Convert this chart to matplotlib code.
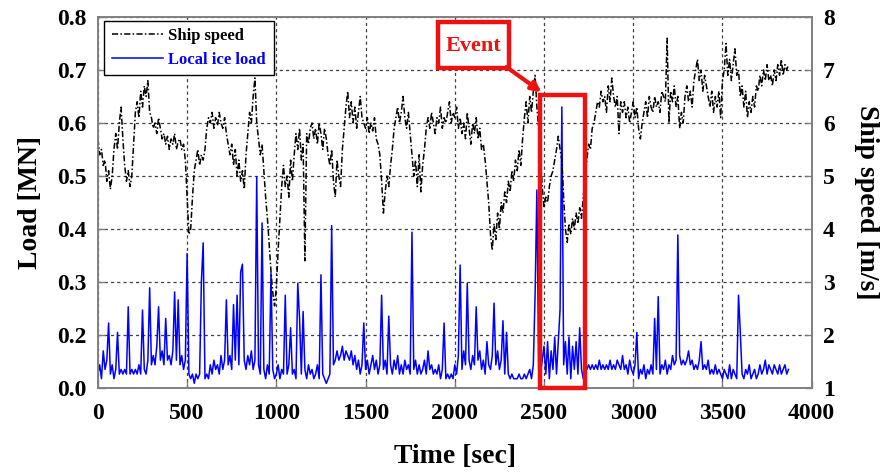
import numpy as np
import matplotlib
matplotlib.use("Agg")
import matplotlib.pyplot as plt
from matplotlib.patches import Rectangle

# time axis: one reading every 10 s, 0 .. 3870 s
time_step = 10

ship_speed = [
    5.7, 5.4, 5.5, 5.2, 5.3, 4.9, 5.1, 4.75, 5.0, 5.5,
    5.8, 5.5, 6.0, 6.3, 5.7, 5.2, 4.9, 5.1, 4.8, 5.0,
    5.6, 6.2, 6.4, 6.1, 6.6, 6.3, 6.7, 6.5, 6.8, 6.2,
    6.1, 5.9, 6.0, 5.8, 6.1, 5.9, 5.7, 5.8, 5.6, 5.75,
    5.5, 5.7, 5.6, 5.8, 5.5, 5.65, 5.7, 5.5, 5.6, 5.3,
    4.6, 3.9, 4.0, 4.6, 5.1, 5.3, 5.5, 5.2, 5.4, 5.3,
    5.5, 5.9, 6.1, 6.0, 6.2, 5.9, 6.1, 5.95, 6.2, 6.0,
    5.9, 6.1, 5.8, 5.6, 5.4, 5.6, 5.2, 5.5, 5.0, 5.3,
    4.9, 5.1, 4.75, 5.4, 5.8, 6.2, 6.0, 6.5, 6.85, 6.0,
    5.7, 5.4, 5.6, 5.1, 4.6, 4.2, 3.7, 3.2, 2.8, 2.55,
    2.9, 3.6, 4.2, 4.8, 5.2, 4.8, 5.0, 4.6, 5.3, 4.9,
    5.4, 5.8, 5.5, 5.9, 5.3, 5.6, 3.4, 5.8, 5.6, 5.9,
    6.0, 5.7, 5.9, 5.6, 6.0, 5.8, 5.5, 5.9, 5.7, 5.4,
    5.2, 5.5, 4.9, 4.6, 5.3, 5.0, 4.8, 5.5, 5.9, 6.3,
    6.6, 6.1, 6.4, 6.0, 6.3, 5.9, 6.2, 6.5, 6.1, 6.0,
    5.9, 6.1, 5.8, 6.0, 5.85, 6.1, 5.7, 5.6, 5.4, 4.9,
    4.3, 4.7, 5.0, 4.8, 5.2, 5.5, 5.9, 6.1, 6.3, 6.0,
    6.2, 6.5, 6.1, 5.9, 6.2, 5.8, 5.4, 5.0, 5.3, 4.8,
    5.4, 4.7, 5.2, 5.5, 5.9, 6.1, 5.9, 6.2, 6.0, 5.8,
    6.1, 6.0, 6.3, 5.9, 6.1, 6.0, 6.2, 6.4, 6.0, 6.2,
    6.1, 6.3, 5.9, 6.1, 5.8, 6.0, 5.7, 6.2, 5.9, 5.6,
    6.0, 5.8, 6.1, 5.7, 5.9, 5.5, 5.6, 5.3, 4.9, 4.5,
    3.9, 3.6, 4.1, 3.8, 4.3, 4.0, 4.5, 4.3, 4.7, 4.5,
    4.9, 4.7, 5.1, 4.9, 5.3, 5.1, 5.5, 5.2, 5.7, 6.1,
    6.4, 6.0, 6.5, 6.2, 6.6, 6.9, 6.3, 5.9, 5.4, 4.8,
    4.4, 4.6, 4.5, 4.8, 5.0, 5.1, 5.3, 5.5, 5.75, 5.5,
    5.3, 4.6, 4.0, 3.75, 4.1, 3.9, 4.2, 4.0, 4.3, 4.1,
    4.4, 4.2, 4.6, 5.0, 5.3, 5.6, 5.5, 5.9, 6.0, 6.2,
    6.4, 6.3, 6.6, 6.4, 6.5, 6.2, 6.7, 6.4, 6.85, 6.5,
    6.3, 6.5, 5.8, 6.4, 6.2, 6.4, 6.1, 6.3, 6.0, 6.2,
    6.4, 6.1, 6.3, 5.9, 5.7, 6.0, 6.2, 6.4, 6.1, 6.5,
    6.3, 6.2, 6.5, 6.3, 6.4, 6.2, 6.6, 6.5, 6.4, 7.6,
    6.0, 6.6, 6.4, 6.7, 6.3, 6.5, 5.9, 6.2, 6.0, 6.5,
    6.7, 6.4, 6.6, 6.3, 6.8, 7.0, 7.2, 6.8, 7.0, 6.6,
    6.9, 6.7, 6.5, 6.3, 6.6, 6.2, 6.5, 6.3, 6.6, 6.1,
    6.8, 7.0, 7.5, 6.9, 7.2, 6.8, 7.1, 7.4, 6.9, 7.0,
    6.5, 6.7, 6.3, 6.6, 6.1, 6.4, 6.2, 6.5, 6.3, 6.7,
    6.6, 6.9, 6.7, 7.0, 6.8, 7.1, 6.8, 6.9, 6.7, 7.0,
    6.8, 7.1, 6.9, 7.2, 6.9, 7.1, 7.0, 7.1,
]

ice_load = [
    0.03, 0.05, 0.02, 0.08, 0.04, 0.06, 0.14, 0.03, 0.05, 0.02,
    0.04, 0.12, 0.03, 0.04, 0.03, 0.04, 0.03, 0.175, 0.03, 0.04,
    0.03, 0.04, 0.03, 0.05, 0.03, 0.168, 0.04, 0.03, 0.06, 0.216,
    0.05, 0.07, 0.05, 0.09, 0.175, 0.06, 0.08, 0.05, 0.15, 0.06,
    0.07, 0.05, 0.08, 0.207, 0.06, 0.19, 0.05, 0.07, 0.04, 0.06,
    0.29, 0.03, 0.02, 0.03, 0.01, 0.03, 0.02, 0.03, 0.23, 0.313,
    0.02, 0.03, 0.02, 0.05, 0.03, 0.06, 0.04, 0.05, 0.03, 0.07,
    0.04, 0.06, 0.19, 0.05, 0.07, 0.04, 0.18, 0.06, 0.2, 0.05,
    0.25, 0.267, 0.06, 0.04, 0.07, 0.05, 0.08, 0.04, 0.06, 0.455,
    0.05, 0.03, 0.356, 0.04, 0.02, 0.05, 0.03, 0.248, 0.04, 0.02,
    0.03, 0.05, 0.02, 0.04, 0.03, 0.2, 0.03, 0.05, 0.13, 0.03,
    0.04, 0.02, 0.226, 0.15, 0.03, 0.165, 0.04, 0.02, 0.05, 0.03,
    0.04, 0.02, 0.03, 0.05, 0.02, 0.244, 0.03, 0.02, 0.01, 0.02,
    0.03, 0.35, 0.05, 0.06, 0.08, 0.06, 0.07, 0.09, 0.06, 0.08,
    0.07, 0.06, 0.08, 0.05, 0.07, 0.04, 0.06, 0.03, 0.05, 0.14,
    0.04, 0.06, 0.03, 0.05, 0.07, 0.04, 0.06, 0.03, 0.05, 0.2,
    0.04, 0.06, 0.03, 0.155, 0.05, 0.03, 0.06, 0.04, 0.07, 0.03,
    0.05, 0.03, 0.06, 0.04, 0.05, 0.03, 0.336, 0.04, 0.06, 0.03,
    0.05, 0.03, 0.04, 0.06, 0.03, 0.08, 0.04, 0.05, 0.03, 0.04,
    0.03, 0.05, 0.02, 0.04, 0.14, 0.02, 0.03, 0.02, 0.03, 0.02,
    0.05, 0.03, 0.07, 0.265, 0.04, 0.08, 0.05, 0.226, 0.06, 0.04,
    0.07, 0.05, 0.175, 0.06, 0.08, 0.04, 0.06, 0.03, 0.1, 0.05,
    0.04, 0.07, 0.183, 0.05, 0.08, 0.04, 0.06, 0.145, 0.03, 0.12,
    0.03, 0.02, 0.03, 0.02, 0.02, 0.02, 0.03, 0.02, 0.02, 0.03,
    0.02, 0.03, 0.04, 0.02, 0.05, 0.2, 0.427, 0.04, 0.03, 0.06,
    0.09, 0.03, 0.1, 0.02, 0.08, 0.04, 0.11, 0.03, 0.1, 0.17,
    0.606, 0.05, 0.1, 0.03, 0.11, 0.02, 0.09, 0.04, 0.1, 0.03,
    0.13, 0.04, 0.02, 0.05, 0.04, 0.05, 0.04, 0.05, 0.04, 0.05,
    0.04, 0.06, 0.04, 0.05, 0.04, 0.05, 0.04, 0.06, 0.04, 0.05,
    0.04, 0.06, 0.05, 0.04, 0.07, 0.04, 0.05, 0.03, 0.06, 0.04,
    0.03, 0.05, 0.12, 0.02, 0.04, 0.03, 0.05, 0.02, 0.04, 0.03,
    0.05, 0.03, 0.15, 0.04, 0.197, 0.03, 0.05, 0.04, 0.06, 0.03,
    0.05, 0.04, 0.07, 0.05, 0.06, 0.33, 0.07, 0.05, 0.06, 0.05,
    0.06, 0.08, 0.05, 0.06, 0.04, 0.05, 0.04, 0.06, 0.1, 0.04,
    0.05, 0.04, 0.06, 0.03, 0.04, 0.03, 0.05, 0.03, 0.04, 0.03,
    0.02, 0.04, 0.03, 0.02, 0.05, 0.02, 0.04, 0.03, 0.02, 0.2,
    0.12, 0.03, 0.02, 0.04, 0.03, 0.05, 0.02, 0.03, 0.04, 0.02,
    0.03, 0.05, 0.03, 0.04, 0.06, 0.03, 0.05, 0.04, 0.03, 0.05,
    0.04, 0.03, 0.05, 0.03, 0.04, 0.05, 0.03, 0.04,
]

load_ticklabels = ["0.0", "0.2", "0.3", "0.4", "0.5", "0.6", "0.7", "0.8"]
speed_ticks = [1, 2, 3, 4, 5, 6, 7, 8]
time_ticks = [0, 500, 1000, 1500, 2000, 2500, 3000, 3500, 4000]

# event window (sec) and annotation box
event_start, event_end, event_top = 2478, 2728, 0.632

plt.rcParams["font.family"] = ["Liberation Serif", "DejaVu Serif"]
plt.rcParams["font.weight"] = "bold"

t = np.arange(len(ship_speed)) * time_step
assert len(ship_speed) == len(ice_load)

fig = plt.figure(figsize=(8.9, 4.72), dpi=100)
ax = fig.add_axes([0.110, 0.178, 0.802, 0.786])
ax2 = ax.twinx()

ax.plot(t, ice_load, color="#0000ff", lw=1.1, label="Local ice load")
ax2.plot(t, ship_speed, color="black", lw=1.1, linestyle=(0, (4, 1.5, 1, 1.5)),
         label="Ship speed")

ax.set_xlim(0, 4000)
ax.set_ylim(0, 0.8)
ax2.set_ylim(1, 8)
ax.set_xticks(time_ticks)
ax.set_yticks(np.linspace(0, 0.8, len(load_ticklabels)))
ax.set_yticklabels(load_ticklabels)
ax2.set_yticks(speed_ticks)

grid_kw = dict(color="#404040", linestyle=(0, (2.5, 2.5)), linewidth=0.9)
ax.grid(True, **grid_kw)

for a in (ax, ax2):
    for s in a.spines.values():
        s.set_color("#808080")
        s.set_linewidth(1.2)
    a.tick_params(direction="in", length=5, width=1, color="#808080",
                  labelsize=17, pad=8)
ax.tick_params(axis="x", pad=11)

ax.set_xlabel("Time [sec]", fontsize=20, fontweight="bold", labelpad=14)
ax.set_ylabel("Load [MN]", fontsize=20, fontweight="bold", labelpad=10)
ax2.set_ylabel("Ship speed [m/s]", fontsize=20, fontweight="bold",
               rotation=270, labelpad=32)

# event highlight, drawn on the top axes using the load axis coordinates
ax2.add_patch(Rectangle((event_start, 0), event_end - event_start, event_top,
                        transform=ax.transData, fill=False, edgecolor="#ee1111",
                        lw=3.2, zorder=5, clip_on=False))
ax2.add_patch(Rectangle((1905, 0.690), 398, 0.099, transform=ax.transData,
                        facecolor="white", edgecolor="#ee1111", lw=3.2, zorder=5))
ax2.text(2104, 0.738, "Event", transform=ax.transData, color="#ee1111",
         fontsize=16, fontweight="bold", ha="center", va="center", zorder=6)
ax2.annotate("", xy=(event_start + 8, 0.638), xytext=(2290, 0.692),
             xycoords=ax.transData, textcoords=ax.transData,
             arrowprops=dict(arrowstyle="-|>", color="#ee1111", lw=3,
                             mutation_scale=14, shrinkA=0, shrinkB=0),
             zorder=6)

h1, l1 = ax2.get_legend_handles_labels()
h2, l2 = ax.get_legend_handles_labels()
leg = ax2.legend(h1 + h2, l1 + l2, loc="upper left",
                 bbox_to_anchor=(0.009, 0.99), borderaxespad=0,
                 fontsize=12, handlelength=3.1, handletextpad=0.3,
                 frameon=True, fancybox=False, edgecolor="black",
                 framealpha=1, borderpad=0.45, labelspacing=0.45)
leg.get_frame().set_linewidth(1.0)
leg.get_texts()[1].set_color("#0000ff")

fig.savefig("out.png", dpi=100)
